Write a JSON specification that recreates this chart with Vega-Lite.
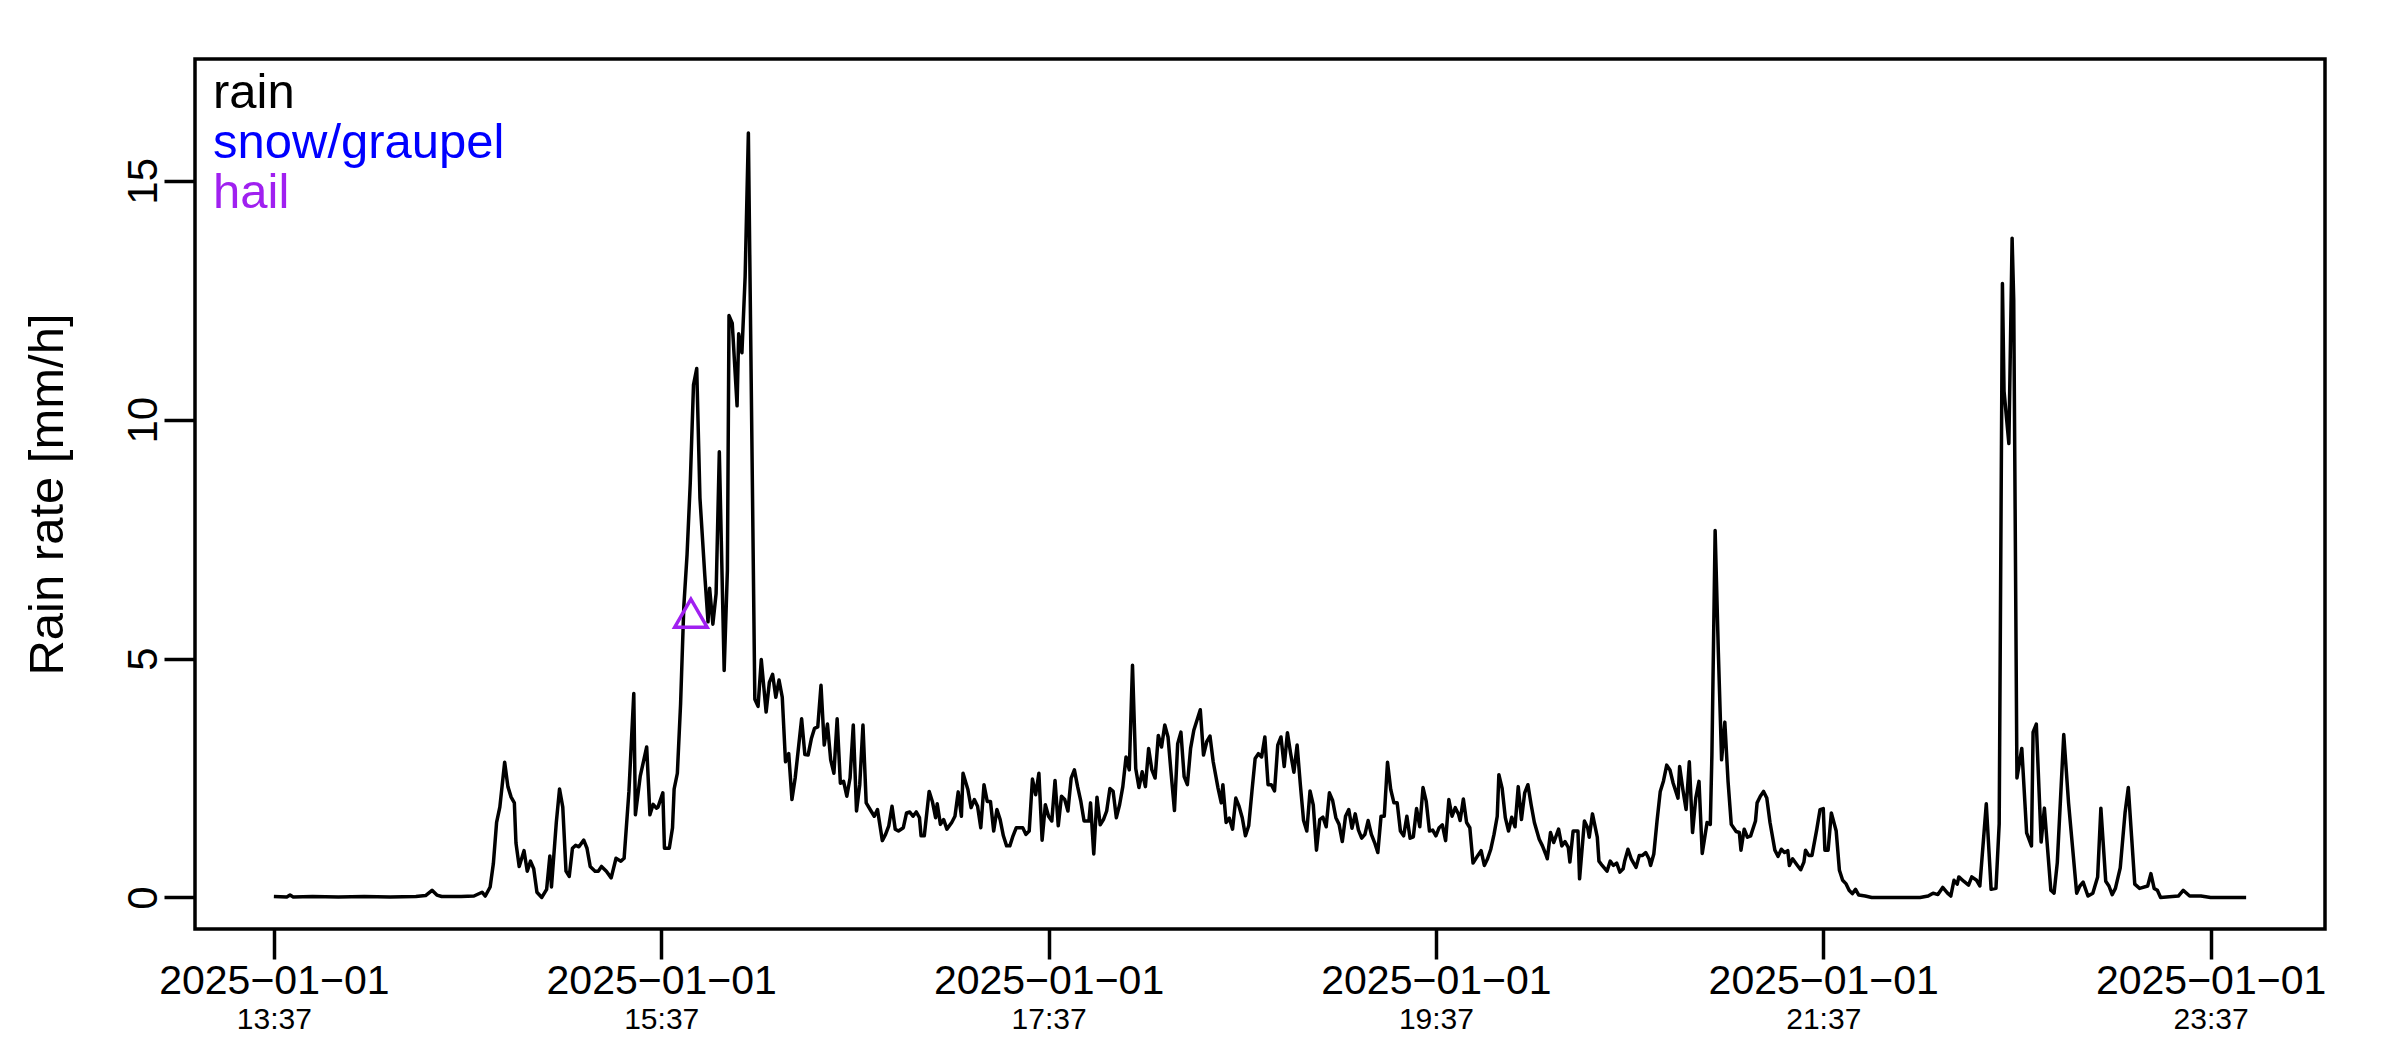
{
  "$schema": "https://vega.github.io/schema/vega-lite/v6.json",
  "width": 2130,
  "height": 870,
  "autosize": {"type": "none"},
  "padding": {"left": 195, "top": 59, "right": 75, "bottom": 121},
  "background": "white",
  "config": {
    "font": "Liberation Sans",
    "view": {"stroke": "black", "strokeWidth": 3.5}
  },
  "datasets": {
    "rain": [
      {"time": "2025-01-01T13:37:00", "rate": 0.02},
      {"time": "2025-01-01T13:41:00", "rate": 0.01},
      {"time": "2025-01-01T13:42:00", "rate": 0.05},
      {"time": "2025-01-01T13:43:00", "rate": 0.01},
      {"time": "2025-01-01T13:49:00", "rate": 0.02},
      {"time": "2025-01-01T13:57:00", "rate": 0.01},
      {"time": "2025-01-01T14:05:00", "rate": 0.02},
      {"time": "2025-01-01T14:13:00", "rate": 0.01},
      {"time": "2025-01-01T14:21:00", "rate": 0.02},
      {"time": "2025-01-01T14:24:00", "rate": 0.04},
      {"time": "2025-01-01T14:26:00", "rate": 0.15},
      {"time": "2025-01-01T14:27:30", "rate": 0.05},
      {"time": "2025-01-01T14:29:00", "rate": 0.02},
      {"time": "2025-01-01T14:35:00", "rate": 0.02},
      {"time": "2025-01-01T14:39:00", "rate": 0.03},
      {"time": "2025-01-01T14:41:30", "rate": 0.11},
      {"time": "2025-01-01T14:42:30", "rate": 0.03},
      {"time": "2025-01-01T14:44:00", "rate": 0.22},
      {"time": "2025-01-01T14:45:00", "rate": 0.71},
      {"time": "2025-01-01T14:46:00", "rate": 1.57},
      {"time": "2025-01-01T14:47:00", "rate": 1.89},
      {"time": "2025-01-01T14:48:30", "rate": 2.83},
      {"time": "2025-01-01T14:49:30", "rate": 2.32},
      {"time": "2025-01-01T14:50:30", "rate": 2.1},
      {"time": "2025-01-01T14:51:30", "rate": 1.98},
      {"time": "2025-01-01T14:52:00", "rate": 1.14},
      {"time": "2025-01-01T14:53:00", "rate": 0.65},
      {"time": "2025-01-01T14:54:30", "rate": 0.98},
      {"time": "2025-01-01T14:55:30", "rate": 0.55},
      {"time": "2025-01-01T14:56:30", "rate": 0.76},
      {"time": "2025-01-01T14:57:30", "rate": 0.6},
      {"time": "2025-01-01T14:58:30", "rate": 0.11},
      {"time": "2025-01-01T15:00:00", "rate": 0.0},
      {"time": "2025-01-01T15:01:30", "rate": 0.17},
      {"time": "2025-01-01T15:02:30", "rate": 0.87},
      {"time": "2025-01-01T15:03:00", "rate": 0.22},
      {"time": "2025-01-01T15:04:30", "rate": 1.57},
      {"time": "2025-01-01T15:05:30", "rate": 2.27},
      {"time": "2025-01-01T15:06:30", "rate": 1.89},
      {"time": "2025-01-01T15:07:30", "rate": 0.55},
      {"time": "2025-01-01T15:08:30", "rate": 0.44},
      {"time": "2025-01-01T15:09:30", "rate": 1.03},
      {"time": "2025-01-01T15:10:30", "rate": 1.09},
      {"time": "2025-01-01T15:11:30", "rate": 1.06},
      {"time": "2025-01-01T15:13:00", "rate": 1.2},
      {"time": "2025-01-01T15:14:00", "rate": 1.03},
      {"time": "2025-01-01T15:15:00", "rate": 0.65},
      {"time": "2025-01-01T15:16:30", "rate": 0.55},
      {"time": "2025-01-01T15:17:30", "rate": 0.55},
      {"time": "2025-01-01T15:18:30", "rate": 0.65},
      {"time": "2025-01-01T15:20:00", "rate": 0.55},
      {"time": "2025-01-01T15:21:30", "rate": 0.41},
      {"time": "2025-01-01T15:23:00", "rate": 0.82},
      {"time": "2025-01-01T15:24:30", "rate": 0.76},
      {"time": "2025-01-01T15:25:30", "rate": 0.82},
      {"time": "2025-01-01T15:27:00", "rate": 2.22},
      {"time": "2025-01-01T15:28:30", "rate": 4.27},
      {"time": "2025-01-01T15:29:00", "rate": 1.73},
      {"time": "2025-01-01T15:30:30", "rate": 2.54},
      {"time": "2025-01-01T15:32:30", "rate": 3.15},
      {"time": "2025-01-01T15:33:30", "rate": 1.73},
      {"time": "2025-01-01T15:34:30", "rate": 1.95},
      {"time": "2025-01-01T15:35:30", "rate": 1.87},
      {"time": "2025-01-01T15:36:00", "rate": 1.89},
      {"time": "2025-01-01T15:37:30", "rate": 2.19},
      {"time": "2025-01-01T15:38:00", "rate": 1.03},
      {"time": "2025-01-01T15:39:30", "rate": 1.03},
      {"time": "2025-01-01T15:40:30", "rate": 1.46},
      {"time": "2025-01-01T15:41:00", "rate": 2.27},
      {"time": "2025-01-01T15:42:00", "rate": 2.6},
      {"time": "2025-01-01T15:43:00", "rate": 4.05},
      {"time": "2025-01-01T15:44:00", "rate": 6.09},
      {"time": "2025-01-01T15:45:00", "rate": 7.17},
      {"time": "2025-01-01T15:46:00", "rate": 8.68},
      {"time": "2025-01-01T15:47:00", "rate": 10.73},
      {"time": "2025-01-01T15:48:00", "rate": 11.07},
      {"time": "2025-01-01T15:49:00", "rate": 8.36},
      {"time": "2025-01-01T15:50:30", "rate": 6.74},
      {"time": "2025-01-01T15:51:30", "rate": 5.77},
      {"time": "2025-01-01T15:52:00", "rate": 6.47},
      {"time": "2025-01-01T15:53:00", "rate": 5.72},
      {"time": "2025-01-01T15:54:00", "rate": 6.36},
      {"time": "2025-01-01T15:55:00", "rate": 9.33},
      {"time": "2025-01-01T15:56:30", "rate": 4.75},
      {"time": "2025-01-01T15:57:30", "rate": 6.85},
      {"time": "2025-01-01T15:58:00", "rate": 12.18},
      {"time": "2025-01-01T15:59:00", "rate": 12.02},
      {"time": "2025-01-01T16:00:30", "rate": 10.29},
      {"time": "2025-01-01T16:01:00", "rate": 11.8},
      {"time": "2025-01-01T16:02:00", "rate": 11.4},
      {"time": "2025-01-01T16:03:00", "rate": 13.0},
      {"time": "2025-01-01T16:04:00", "rate": 16.0},
      {"time": "2025-01-01T16:06:00", "rate": 4.15},
      {"time": "2025-01-01T16:07:00", "rate": 4.0},
      {"time": "2025-01-01T16:08:00", "rate": 4.98},
      {"time": "2025-01-01T16:09:30", "rate": 3.88},
      {"time": "2025-01-01T16:10:30", "rate": 4.5},
      {"time": "2025-01-01T16:11:30", "rate": 4.67},
      {"time": "2025-01-01T16:12:30", "rate": 4.19},
      {"time": "2025-01-01T16:13:30", "rate": 4.55},
      {"time": "2025-01-01T16:14:30", "rate": 4.19},
      {"time": "2025-01-01T16:15:30", "rate": 2.84},
      {"time": "2025-01-01T16:16:30", "rate": 3.01},
      {"time": "2025-01-01T16:17:30", "rate": 2.05},
      {"time": "2025-01-01T16:18:30", "rate": 2.5},
      {"time": "2025-01-01T16:20:30", "rate": 3.74},
      {"time": "2025-01-01T16:21:30", "rate": 2.99},
      {"time": "2025-01-01T16:22:30", "rate": 2.98},
      {"time": "2025-01-01T16:23:30", "rate": 3.32},
      {"time": "2025-01-01T16:24:30", "rate": 3.54},
      {"time": "2025-01-01T16:25:30", "rate": 3.57},
      {"time": "2025-01-01T16:26:30", "rate": 4.44},
      {"time": "2025-01-01T16:27:30", "rate": 3.19},
      {"time": "2025-01-01T16:28:30", "rate": 3.63},
      {"time": "2025-01-01T16:29:30", "rate": 2.88},
      {"time": "2025-01-01T16:30:30", "rate": 2.6},
      {"time": "2025-01-01T16:31:30", "rate": 3.74},
      {"time": "2025-01-01T16:32:30", "rate": 2.39},
      {"time": "2025-01-01T16:33:30", "rate": 2.43},
      {"time": "2025-01-01T16:34:30", "rate": 2.12},
      {"time": "2025-01-01T16:35:30", "rate": 2.5},
      {"time": "2025-01-01T16:36:30", "rate": 3.61},
      {"time": "2025-01-01T16:37:30", "rate": 1.81},
      {"time": "2025-01-01T16:38:30", "rate": 2.36},
      {"time": "2025-01-01T16:39:30", "rate": 3.61},
      {"time": "2025-01-01T16:40:30", "rate": 1.98},
      {"time": "2025-01-01T16:42:00", "rate": 1.81},
      {"time": "2025-01-01T16:43:00", "rate": 1.7},
      {"time": "2025-01-01T16:44:00", "rate": 1.84},
      {"time": "2025-01-01T16:45:30", "rate": 1.19},
      {"time": "2025-01-01T16:46:30", "rate": 1.32},
      {"time": "2025-01-01T16:47:30", "rate": 1.5},
      {"time": "2025-01-01T16:48:30", "rate": 1.91},
      {"time": "2025-01-01T16:49:30", "rate": 1.43},
      {"time": "2025-01-01T16:50:30", "rate": 1.39},
      {"time": "2025-01-01T16:52:00", "rate": 1.46},
      {"time": "2025-01-01T16:53:00", "rate": 1.77},
      {"time": "2025-01-01T16:54:00", "rate": 1.79},
      {"time": "2025-01-01T16:55:00", "rate": 1.7},
      {"time": "2025-01-01T16:56:00", "rate": 1.79},
      {"time": "2025-01-01T16:57:00", "rate": 1.67},
      {"time": "2025-01-01T16:57:30", "rate": 1.29},
      {"time": "2025-01-01T16:58:30", "rate": 1.29},
      {"time": "2025-01-01T17:00:00", "rate": 2.22},
      {"time": "2025-01-01T17:01:00", "rate": 2.01},
      {"time": "2025-01-01T17:02:00", "rate": 1.67},
      {"time": "2025-01-01T17:02:30", "rate": 1.96},
      {"time": "2025-01-01T17:03:30", "rate": 1.53},
      {"time": "2025-01-01T17:04:30", "rate": 1.63},
      {"time": "2025-01-01T17:05:30", "rate": 1.43},
      {"time": "2025-01-01T17:07:00", "rate": 1.57},
      {"time": "2025-01-01T17:08:00", "rate": 1.7},
      {"time": "2025-01-01T17:09:00", "rate": 2.21},
      {"time": "2025-01-01T17:10:00", "rate": 1.7},
      {"time": "2025-01-01T17:10:30", "rate": 2.6},
      {"time": "2025-01-01T17:12:00", "rate": 2.26},
      {"time": "2025-01-01T17:13:00", "rate": 1.88},
      {"time": "2025-01-01T17:14:00", "rate": 2.05},
      {"time": "2025-01-01T17:15:00", "rate": 1.91},
      {"time": "2025-01-01T17:16:00", "rate": 1.46},
      {"time": "2025-01-01T17:17:00", "rate": 2.36},
      {"time": "2025-01-01T17:18:00", "rate": 2.01},
      {"time": "2025-01-01T17:19:00", "rate": 2.01},
      {"time": "2025-01-01T17:20:00", "rate": 1.39},
      {"time": "2025-01-01T17:21:00", "rate": 1.84},
      {"time": "2025-01-01T17:22:00", "rate": 1.63},
      {"time": "2025-01-01T17:23:00", "rate": 1.29},
      {"time": "2025-01-01T17:24:00", "rate": 1.08},
      {"time": "2025-01-01T17:25:00", "rate": 1.08},
      {"time": "2025-01-01T17:26:00", "rate": 1.29},
      {"time": "2025-01-01T17:27:00", "rate": 1.46},
      {"time": "2025-01-01T17:29:00", "rate": 1.46},
      {"time": "2025-01-01T17:30:00", "rate": 1.32},
      {"time": "2025-01-01T17:31:00", "rate": 1.39},
      {"time": "2025-01-01T17:32:00", "rate": 2.48},
      {"time": "2025-01-01T17:33:00", "rate": 2.15},
      {"time": "2025-01-01T17:34:00", "rate": 2.6},
      {"time": "2025-01-01T17:35:00", "rate": 1.2},
      {"time": "2025-01-01T17:36:00", "rate": 1.94},
      {"time": "2025-01-01T17:37:00", "rate": 1.7},
      {"time": "2025-01-01T17:38:00", "rate": 1.6},
      {"time": "2025-01-01T17:39:00", "rate": 2.45},
      {"time": "2025-01-01T17:40:00", "rate": 1.5},
      {"time": "2025-01-01T17:41:00", "rate": 2.12},
      {"time": "2025-01-01T17:42:00", "rate": 2.05},
      {"time": "2025-01-01T17:43:00", "rate": 1.81},
      {"time": "2025-01-01T17:44:00", "rate": 2.5},
      {"time": "2025-01-01T17:45:00", "rate": 2.67},
      {"time": "2025-01-01T17:46:00", "rate": 2.32},
      {"time": "2025-01-01T17:47:00", "rate": 2.01},
      {"time": "2025-01-01T17:48:00", "rate": 1.6},
      {"time": "2025-01-01T17:49:30", "rate": 1.6},
      {"time": "2025-01-01T17:50:00", "rate": 1.98},
      {"time": "2025-01-01T17:51:00", "rate": 0.91},
      {"time": "2025-01-01T17:52:00", "rate": 2.1},
      {"time": "2025-01-01T17:53:00", "rate": 1.52},
      {"time": "2025-01-01T17:54:00", "rate": 1.63},
      {"time": "2025-01-01T17:55:00", "rate": 1.81},
      {"time": "2025-01-01T17:56:00", "rate": 2.28},
      {"time": "2025-01-01T17:57:00", "rate": 2.22},
      {"time": "2025-01-01T17:58:00", "rate": 1.67},
      {"time": "2025-01-01T17:59:00", "rate": 1.94},
      {"time": "2025-01-01T18:00:00", "rate": 2.32},
      {"time": "2025-01-01T18:01:00", "rate": 2.94},
      {"time": "2025-01-01T18:02:00", "rate": 2.67},
      {"time": "2025-01-01T18:03:00", "rate": 4.86},
      {"time": "2025-01-01T18:04:00", "rate": 2.7},
      {"time": "2025-01-01T18:05:00", "rate": 2.3},
      {"time": "2025-01-01T18:06:00", "rate": 2.63},
      {"time": "2025-01-01T18:07:00", "rate": 2.32},
      {"time": "2025-01-01T18:08:00", "rate": 3.12},
      {"time": "2025-01-01T18:09:00", "rate": 2.67},
      {"time": "2025-01-01T18:10:00", "rate": 2.5},
      {"time": "2025-01-01T18:11:00", "rate": 3.39},
      {"time": "2025-01-01T18:12:00", "rate": 3.15},
      {"time": "2025-01-01T18:13:00", "rate": 3.61},
      {"time": "2025-01-01T18:14:00", "rate": 3.36},
      {"time": "2025-01-01T18:15:00", "rate": 2.57},
      {"time": "2025-01-01T18:16:00", "rate": 1.82},
      {"time": "2025-01-01T18:17:00", "rate": 3.22},
      {"time": "2025-01-01T18:18:00", "rate": 3.46},
      {"time": "2025-01-01T18:19:00", "rate": 2.53},
      {"time": "2025-01-01T18:20:00", "rate": 2.36},
      {"time": "2025-01-01T18:21:00", "rate": 3.12},
      {"time": "2025-01-01T18:22:00", "rate": 3.5},
      {"time": "2025-01-01T18:24:00", "rate": 3.93},
      {"time": "2025-01-01T18:25:00", "rate": 2.98},
      {"time": "2025-01-01T18:26:00", "rate": 3.26},
      {"time": "2025-01-01T18:27:00", "rate": 3.38},
      {"time": "2025-01-01T18:28:00", "rate": 2.84},
      {"time": "2025-01-01T18:29:30", "rate": 2.29},
      {"time": "2025-01-01T18:30:30", "rate": 1.98},
      {"time": "2025-01-01T18:31:00", "rate": 2.36},
      {"time": "2025-01-01T18:32:00", "rate": 1.57},
      {"time": "2025-01-01T18:33:00", "rate": 1.66},
      {"time": "2025-01-01T18:34:00", "rate": 1.43},
      {"time": "2025-01-01T18:35:00", "rate": 2.08},
      {"time": "2025-01-01T18:36:00", "rate": 1.91},
      {"time": "2025-01-01T18:37:00", "rate": 1.67},
      {"time": "2025-01-01T18:38:00", "rate": 1.29},
      {"time": "2025-01-01T18:39:00", "rate": 1.5},
      {"time": "2025-01-01T18:40:00", "rate": 2.22},
      {"time": "2025-01-01T18:41:00", "rate": 2.91},
      {"time": "2025-01-01T18:42:00", "rate": 3.01},
      {"time": "2025-01-01T18:43:00", "rate": 2.94},
      {"time": "2025-01-01T18:44:00", "rate": 3.36},
      {"time": "2025-01-01T18:45:00", "rate": 2.36},
      {"time": "2025-01-01T18:46:00", "rate": 2.36},
      {"time": "2025-01-01T18:47:00", "rate": 2.23},
      {"time": "2025-01-01T18:48:00", "rate": 3.19},
      {"time": "2025-01-01T18:49:00", "rate": 3.36},
      {"time": "2025-01-01T18:50:00", "rate": 2.74},
      {"time": "2025-01-01T18:51:00", "rate": 3.45},
      {"time": "2025-01-01T18:52:00", "rate": 3.01},
      {"time": "2025-01-01T18:53:00", "rate": 2.62},
      {"time": "2025-01-01T18:54:00", "rate": 3.19},
      {"time": "2025-01-01T18:55:00", "rate": 2.36},
      {"time": "2025-01-01T18:56:00", "rate": 1.61},
      {"time": "2025-01-01T18:57:00", "rate": 1.39},
      {"time": "2025-01-01T18:58:00", "rate": 2.23},
      {"time": "2025-01-01T18:59:00", "rate": 1.94},
      {"time": "2025-01-01T19:00:00", "rate": 0.99},
      {"time": "2025-01-01T19:01:00", "rate": 1.63},
      {"time": "2025-01-01T19:02:00", "rate": 1.68},
      {"time": "2025-01-01T19:03:00", "rate": 1.48},
      {"time": "2025-01-01T19:04:00", "rate": 2.19},
      {"time": "2025-01-01T19:05:00", "rate": 2.03},
      {"time": "2025-01-01T19:06:00", "rate": 1.67},
      {"time": "2025-01-01T19:07:00", "rate": 1.53},
      {"time": "2025-01-01T19:08:00", "rate": 1.17},
      {"time": "2025-01-01T19:09:00", "rate": 1.7},
      {"time": "2025-01-01T19:10:00", "rate": 1.84},
      {"time": "2025-01-01T19:11:00", "rate": 1.45},
      {"time": "2025-01-01T19:12:00", "rate": 1.75},
      {"time": "2025-01-01T19:13:00", "rate": 1.41},
      {"time": "2025-01-01T19:14:00", "rate": 1.24},
      {"time": "2025-01-01T19:15:00", "rate": 1.32},
      {"time": "2025-01-01T19:16:00", "rate": 1.61},
      {"time": "2025-01-01T19:17:00", "rate": 1.32},
      {"time": "2025-01-01T19:18:00", "rate": 1.15},
      {"time": "2025-01-01T19:19:00", "rate": 0.94},
      {"time": "2025-01-01T19:20:00", "rate": 1.7},
      {"time": "2025-01-01T19:21:00", "rate": 1.7},
      {"time": "2025-01-01T19:22:00", "rate": 2.83},
      {"time": "2025-01-01T19:23:00", "rate": 2.26},
      {"time": "2025-01-01T19:24:00", "rate": 1.98},
      {"time": "2025-01-01T19:25:00", "rate": 1.98},
      {"time": "2025-01-01T19:26:00", "rate": 1.39},
      {"time": "2025-01-01T19:27:00", "rate": 1.29},
      {"time": "2025-01-01T19:28:00", "rate": 1.7},
      {"time": "2025-01-01T19:29:00", "rate": 1.24},
      {"time": "2025-01-01T19:30:00", "rate": 1.27},
      {"time": "2025-01-01T19:31:00", "rate": 1.86},
      {"time": "2025-01-01T19:32:00", "rate": 1.48},
      {"time": "2025-01-01T19:33:00", "rate": 2.3},
      {"time": "2025-01-01T19:34:00", "rate": 2.01},
      {"time": "2025-01-01T19:35:00", "rate": 1.39},
      {"time": "2025-01-01T19:36:00", "rate": 1.41},
      {"time": "2025-01-01T19:37:00", "rate": 1.29},
      {"time": "2025-01-01T19:38:00", "rate": 1.46},
      {"time": "2025-01-01T19:39:00", "rate": 1.52},
      {"time": "2025-01-01T19:40:00", "rate": 1.19},
      {"time": "2025-01-01T19:41:00", "rate": 2.05},
      {"time": "2025-01-01T19:42:00", "rate": 1.7},
      {"time": "2025-01-01T19:43:00", "rate": 1.88},
      {"time": "2025-01-01T19:44:00", "rate": 1.74},
      {"time": "2025-01-01T19:44:30", "rate": 1.61},
      {"time": "2025-01-01T19:45:30", "rate": 2.06},
      {"time": "2025-01-01T19:46:30", "rate": 1.57},
      {"time": "2025-01-01T19:47:30", "rate": 1.46},
      {"time": "2025-01-01T19:48:30", "rate": 0.72},
      {"time": "2025-01-01T19:50:00", "rate": 0.88},
      {"time": "2025-01-01T19:51:00", "rate": 0.98},
      {"time": "2025-01-01T19:52:00", "rate": 0.67},
      {"time": "2025-01-01T19:53:00", "rate": 0.81},
      {"time": "2025-01-01T19:54:00", "rate": 1.01},
      {"time": "2025-01-01T19:55:00", "rate": 1.32},
      {"time": "2025-01-01T19:56:00", "rate": 1.7},
      {"time": "2025-01-01T19:56:30", "rate": 2.57},
      {"time": "2025-01-01T19:57:30", "rate": 2.29},
      {"time": "2025-01-01T19:58:30", "rate": 1.67},
      {"time": "2025-01-01T19:59:30", "rate": 1.39},
      {"time": "2025-01-01T20:00:30", "rate": 1.68},
      {"time": "2025-01-01T20:01:30", "rate": 1.48},
      {"time": "2025-01-01T20:02:30", "rate": 2.32},
      {"time": "2025-01-01T20:03:30", "rate": 1.63},
      {"time": "2025-01-01T20:04:30", "rate": 2.19},
      {"time": "2025-01-01T20:05:30", "rate": 2.36},
      {"time": "2025-01-01T20:06:30", "rate": 1.94},
      {"time": "2025-01-01T20:07:30", "rate": 1.57},
      {"time": "2025-01-01T20:09:00", "rate": 1.22},
      {"time": "2025-01-01T20:10:00", "rate": 1.08},
      {"time": "2025-01-01T20:11:00", "rate": 0.91},
      {"time": "2025-01-01T20:11:30", "rate": 0.81},
      {"time": "2025-01-01T20:12:30", "rate": 1.36},
      {"time": "2025-01-01T20:13:30", "rate": 1.15},
      {"time": "2025-01-01T20:15:00", "rate": 1.43},
      {"time": "2025-01-01T20:16:00", "rate": 1.08},
      {"time": "2025-01-01T20:17:00", "rate": 1.17},
      {"time": "2025-01-01T20:18:00", "rate": 1.05},
      {"time": "2025-01-01T20:18:30", "rate": 0.74},
      {"time": "2025-01-01T20:19:30", "rate": 1.39},
      {"time": "2025-01-01T20:21:00", "rate": 1.39},
      {"time": "2025-01-01T20:21:30", "rate": 0.39},
      {"time": "2025-01-01T20:23:00", "rate": 1.6},
      {"time": "2025-01-01T20:24:00", "rate": 1.46},
      {"time": "2025-01-01T20:24:30", "rate": 1.26},
      {"time": "2025-01-01T20:25:30", "rate": 1.75},
      {"time": "2025-01-01T20:27:00", "rate": 1.26},
      {"time": "2025-01-01T20:27:30", "rate": 0.76},
      {"time": "2025-01-01T20:28:30", "rate": 0.67},
      {"time": "2025-01-01T20:30:00", "rate": 0.55},
      {"time": "2025-01-01T20:31:00", "rate": 0.76},
      {"time": "2025-01-01T20:32:00", "rate": 0.67},
      {"time": "2025-01-01T20:33:00", "rate": 0.72},
      {"time": "2025-01-01T20:34:00", "rate": 0.53},
      {"time": "2025-01-01T20:35:00", "rate": 0.6},
      {"time": "2025-01-01T20:35:30", "rate": 0.77},
      {"time": "2025-01-01T20:36:30", "rate": 1.01},
      {"time": "2025-01-01T20:37:30", "rate": 0.81},
      {"time": "2025-01-01T20:39:00", "rate": 0.63},
      {"time": "2025-01-01T20:40:00", "rate": 0.88},
      {"time": "2025-01-01T20:41:00", "rate": 0.88},
      {"time": "2025-01-01T20:42:00", "rate": 0.94},
      {"time": "2025-01-01T20:43:00", "rate": 0.81},
      {"time": "2025-01-01T20:43:30", "rate": 0.67},
      {"time": "2025-01-01T20:44:30", "rate": 0.91},
      {"time": "2025-01-01T20:45:30", "rate": 1.6},
      {"time": "2025-01-01T20:46:30", "rate": 2.22},
      {"time": "2025-01-01T20:47:30", "rate": 2.44},
      {"time": "2025-01-01T20:48:30", "rate": 2.77},
      {"time": "2025-01-01T20:49:30", "rate": 2.67},
      {"time": "2025-01-01T20:50:30", "rate": 2.39},
      {"time": "2025-01-01T20:52:00", "rate": 2.08},
      {"time": "2025-01-01T20:52:30", "rate": 2.74},
      {"time": "2025-01-01T20:53:30", "rate": 2.26},
      {"time": "2025-01-01T20:54:30", "rate": 1.84},
      {"time": "2025-01-01T20:55:30", "rate": 2.84},
      {"time": "2025-01-01T20:56:30", "rate": 1.36},
      {"time": "2025-01-01T20:57:30", "rate": 2.08},
      {"time": "2025-01-01T20:58:30", "rate": 2.43},
      {"time": "2025-01-01T20:59:30", "rate": 0.92},
      {"time": "2025-01-01T21:01:00", "rate": 1.57},
      {"time": "2025-01-01T21:02:00", "rate": 1.53},
      {"time": "2025-01-01T21:02:30", "rate": 2.98},
      {"time": "2025-01-01T21:03:30", "rate": 7.68},
      {"time": "2025-01-01T21:04:30", "rate": 5.12},
      {"time": "2025-01-01T21:05:30", "rate": 2.88},
      {"time": "2025-01-01T21:06:30", "rate": 3.67},
      {"time": "2025-01-01T21:07:30", "rate": 2.43},
      {"time": "2025-01-01T21:08:30", "rate": 1.53},
      {"time": "2025-01-01T21:10:00", "rate": 1.38},
      {"time": "2025-01-01T21:11:00", "rate": 1.36},
      {"time": "2025-01-01T21:11:30", "rate": 0.99},
      {"time": "2025-01-01T21:12:30", "rate": 1.43},
      {"time": "2025-01-01T21:13:30", "rate": 1.26},
      {"time": "2025-01-01T21:14:30", "rate": 1.29},
      {"time": "2025-01-01T21:16:00", "rate": 1.6},
      {"time": "2025-01-01T21:16:30", "rate": 1.98},
      {"time": "2025-01-01T21:17:30", "rate": 2.12},
      {"time": "2025-01-01T21:18:30", "rate": 2.22},
      {"time": "2025-01-01T21:19:30", "rate": 2.08},
      {"time": "2025-01-01T21:20:30", "rate": 1.57},
      {"time": "2025-01-01T21:22:00", "rate": 0.99},
      {"time": "2025-01-01T21:23:00", "rate": 0.86},
      {"time": "2025-01-01T21:24:00", "rate": 1.01},
      {"time": "2025-01-01T21:25:00", "rate": 0.94},
      {"time": "2025-01-01T21:26:00", "rate": 0.98},
      {"time": "2025-01-01T21:26:30", "rate": 0.67},
      {"time": "2025-01-01T21:27:30", "rate": 0.81},
      {"time": "2025-01-01T21:29:00", "rate": 0.67},
      {"time": "2025-01-01T21:30:00", "rate": 0.58},
      {"time": "2025-01-01T21:31:00", "rate": 0.74},
      {"time": "2025-01-01T21:31:30", "rate": 0.99},
      {"time": "2025-01-01T21:32:30", "rate": 0.88},
      {"time": "2025-01-01T21:33:30", "rate": 0.88},
      {"time": "2025-01-01T21:35:00", "rate": 1.43},
      {"time": "2025-01-01T21:36:00", "rate": 1.84},
      {"time": "2025-01-01T21:37:00", "rate": 1.86},
      {"time": "2025-01-01T21:37:30", "rate": 0.99},
      {"time": "2025-01-01T21:38:30", "rate": 0.99},
      {"time": "2025-01-01T21:39:30", "rate": 1.77},
      {"time": "2025-01-01T21:41:00", "rate": 1.39},
      {"time": "2025-01-01T21:42:00", "rate": 0.57},
      {"time": "2025-01-01T21:43:00", "rate": 0.36},
      {"time": "2025-01-01T21:44:00", "rate": 0.29},
      {"time": "2025-01-01T21:45:00", "rate": 0.15},
      {"time": "2025-01-01T21:46:00", "rate": 0.08},
      {"time": "2025-01-01T21:47:00", "rate": 0.17},
      {"time": "2025-01-01T21:48:00", "rate": 0.05},
      {"time": "2025-01-01T21:50:00", "rate": 0.03},
      {"time": "2025-01-01T21:52:00", "rate": 0.0},
      {"time": "2025-01-01T21:54:30", "rate": 0.0},
      {"time": "2025-01-01T22:01:00", "rate": 0.0},
      {"time": "2025-01-01T22:07:00", "rate": 0.0},
      {"time": "2025-01-01T22:09:30", "rate": 0.03},
      {"time": "2025-01-01T22:11:00", "rate": 0.09},
      {"time": "2025-01-01T22:12:30", "rate": 0.06},
      {"time": "2025-01-01T22:14:00", "rate": 0.21},
      {"time": "2025-01-01T22:15:30", "rate": 0.09},
      {"time": "2025-01-01T22:16:30", "rate": 0.03},
      {"time": "2025-01-01T22:17:30", "rate": 0.36},
      {"time": "2025-01-01T22:18:30", "rate": 0.28},
      {"time": "2025-01-01T22:19:00", "rate": 0.43},
      {"time": "2025-01-01T22:20:30", "rate": 0.34},
      {"time": "2025-01-01T22:22:00", "rate": 0.26},
      {"time": "2025-01-01T22:23:00", "rate": 0.43},
      {"time": "2025-01-01T22:24:30", "rate": 0.36},
      {"time": "2025-01-01T22:25:30", "rate": 0.24},
      {"time": "2025-01-01T22:27:30", "rate": 1.96},
      {"time": "2025-01-01T22:29:00", "rate": 0.17},
      {"time": "2025-01-01T22:30:30", "rate": 0.19},
      {"time": "2025-01-01T22:31:30", "rate": 1.54},
      {"time": "2025-01-01T22:32:30", "rate": 12.85},
      {"time": "2025-01-01T22:33:00", "rate": 10.6},
      {"time": "2025-01-01T22:34:30", "rate": 9.5},
      {"time": "2025-01-01T22:35:30", "rate": 13.8},
      {"time": "2025-01-01T22:36:00", "rate": 12.5},
      {"time": "2025-01-01T22:37:00", "rate": 2.5},
      {"time": "2025-01-01T22:38:30", "rate": 3.12},
      {"time": "2025-01-01T22:40:00", "rate": 1.35},
      {"time": "2025-01-01T22:41:30", "rate": 1.08},
      {"time": "2025-01-01T22:42:00", "rate": 3.46},
      {"time": "2025-01-01T22:43:00", "rate": 3.63},
      {"time": "2025-01-01T22:44:30", "rate": 1.16},
      {"time": "2025-01-01T22:45:30", "rate": 1.87},
      {"time": "2025-01-01T22:47:30", "rate": 0.15},
      {"time": "2025-01-01T22:48:30", "rate": 0.09},
      {"time": "2025-01-01T22:49:30", "rate": 0.73},
      {"time": "2025-01-01T22:51:30", "rate": 3.41},
      {"time": "2025-01-01T22:53:00", "rate": 1.97},
      {"time": "2025-01-01T22:55:30", "rate": 0.09},
      {"time": "2025-01-01T22:56:30", "rate": 0.24},
      {"time": "2025-01-01T22:57:30", "rate": 0.32},
      {"time": "2025-01-01T22:59:00", "rate": 0.03},
      {"time": "2025-01-01T23:00:30", "rate": 0.09},
      {"time": "2025-01-01T23:02:00", "rate": 0.43},
      {"time": "2025-01-01T23:03:00", "rate": 1.87},
      {"time": "2025-01-01T23:04:30", "rate": 0.34},
      {"time": "2025-01-01T23:05:30", "rate": 0.24},
      {"time": "2025-01-01T23:06:30", "rate": 0.06},
      {"time": "2025-01-01T23:07:30", "rate": 0.19},
      {"time": "2025-01-01T23:09:00", "rate": 0.62},
      {"time": "2025-01-01T23:10:30", "rate": 1.78},
      {"time": "2025-01-01T23:11:30", "rate": 2.3},
      {"time": "2025-01-01T23:12:30", "rate": 1.29},
      {"time": "2025-01-01T23:13:30", "rate": 0.28},
      {"time": "2025-01-01T23:15:00", "rate": 0.19},
      {"time": "2025-01-01T23:17:30", "rate": 0.24},
      {"time": "2025-01-01T23:18:30", "rate": 0.5},
      {"time": "2025-01-01T23:19:30", "rate": 0.19},
      {"time": "2025-01-01T23:20:30", "rate": 0.15},
      {"time": "2025-01-01T23:21:30", "rate": 0.0},
      {"time": "2025-01-01T23:27:00", "rate": 0.03},
      {"time": "2025-01-01T23:28:30", "rate": 0.15},
      {"time": "2025-01-01T23:30:30", "rate": 0.03},
      {"time": "2025-01-01T23:34:00", "rate": 0.03},
      {"time": "2025-01-01T23:37:00", "rate": 0.0},
      {"time": "2025-01-01T23:48:00", "rate": 0.0}
    ],
    "hail": [
      {"time": "2025-01-01T15:46:12", "rate": 5.95, "type": "hail"}
    ]
  },
  "layer": [
    {
      "data": {"name": "rain"},
      "mark": {"type": "line", "strokeWidth": 3.5, "strokeJoin": "round"},
      "encoding": {
        "x": {
          "field": "time",
          "type": "temporal",
          "scale": {
            "domain": [
              {"year": 2025, "month": 1, "date": 1, "hours": 13, "minutes": 12, "seconds": 34},
              {"year": 2025, "month": 1, "date": 2, "hours": 0, "minutes": 12, "seconds": 26}
            ],
            "nice": false
          },
          "axis": {
            "orient": "bottom",
            "title": null,
            "values": [
              {"year": 2025, "month": 1, "date": 1, "hours": 13, "minutes": 37},
              {"year": 2025, "month": 1, "date": 1, "hours": 15, "minutes": 37},
              {"year": 2025, "month": 1, "date": 1, "hours": 17, "minutes": 37},
              {"year": 2025, "month": 1, "date": 1, "hours": 19, "minutes": 37},
              {"year": 2025, "month": 1, "date": 1, "hours": 21, "minutes": 37},
              {"year": 2025, "month": 1, "date": 1, "hours": 23, "minutes": 37}
            ],
            "format": "%Y−%m−%d",
            "grid": false,
            "domain": false,
            "tickSize": 30,
            "tickWidth": 3.5,
            "tickColor": "black",
            "labelFontSize": 41,
            "labelColor": "black",
            "labelBaseline": "alphabetic",
            "labelPadding": 34,
            "labelLimit": 2000,
            "labelFlush": false,
            "labelOverlap": false,
            "labelAngle": 0
          }
        },
        "y": {
          "field": "rate",
          "type": "quantitative",
          "scale": {"domain": [-0.66, 17.55], "nice": false, "zero": false},
          "axis": {
            "title": "Rain rate [mm/h]",
            "titleFontSize": 49,
            "titleFontWeight": "normal",
            "titleColor": "black",
            "titleAngle": 270,
            "titleAlign": "center",
            "titleBaseline": "alphabetic",
            "titleX": -133,
            "titleY": 435,
            "values": [0, 5, 10, 15],
            "grid": false,
            "domain": false,
            "tickSize": 31,
            "tickWidth": 3.5,
            "tickColor": "black",
            "labelFontSize": 42,
            "labelColor": "black",
            "labelAngle": 270,
            "labelAlign": "center",
            "labelBaseline": "alphabetic",
            "labelPadding": 8,
            "labelFlush": false,
            "labelOverlap": false
          }
        },
        "color": {
          "datum": "rain",
          "type": "nominal",
          "title": null,
          "scale": {
            "domain": ["rain", "snow/graupel", "hail"],
            "range": ["black", "#0000FF", "#A020F0"]
          },
          "legend": {
            "title": null,
            "orient": "none",
            "legendX": -31,
            "legendY": 9,
            "padding": 0,
            "labelFontSize": 49,
            "labelLimit": 2000,
            "labelOffset": 0,
            "symbolSize": 0,
            "symbolOpacity": 0,
            "symbolStrokeWidth": 0,
            "rowPadding": -3,
            "labelColor": {"expr": "datum.value == 'rain' ? 'black' : datum.value == 'hail' ? '#A020F0' : '#0000FF'"}
          }
        }
      }
    },
    {
      "data": {"name": "hail"},
      "mark": {"type": "point", "shape": "triangle-up", "filled": false, "strokeWidth": 3.5, "size": 1050, "opacity": 1},
      "encoding": {
        "x": {
          "field": "time",
          "type": "temporal",
          "axis": {
            "orient": "bottom",
            "title": null,
            "values": [
              {"year": 2025, "month": 1, "date": 1, "hours": 13, "minutes": 37},
              {"year": 2025, "month": 1, "date": 1, "hours": 15, "minutes": 37},
              {"year": 2025, "month": 1, "date": 1, "hours": 17, "minutes": 37},
              {"year": 2025, "month": 1, "date": 1, "hours": 19, "minutes": 37},
              {"year": 2025, "month": 1, "date": 1, "hours": 21, "minutes": 37},
              {"year": 2025, "month": 1, "date": 1, "hours": 23, "minutes": 37}
            ],
            "format": "%H:%M",
            "grid": false,
            "domain": false,
            "ticks": false,
            "tickSize": 0,
            "labelFontSize": 30,
            "labelColor": "black",
            "labelBaseline": "alphabetic",
            "labelPadding": 99,
            "labelLimit": 2000,
            "labelFlush": false,
            "labelOverlap": false,
            "labelAngle": 0
          }
        },
        "y": {"field": "rate", "type": "quantitative"},
        "color": {"field": "type", "type": "nominal", "title": null}
      }
    }
  ],
  "resolve": {"axis": {"x": "independent"}}
}
